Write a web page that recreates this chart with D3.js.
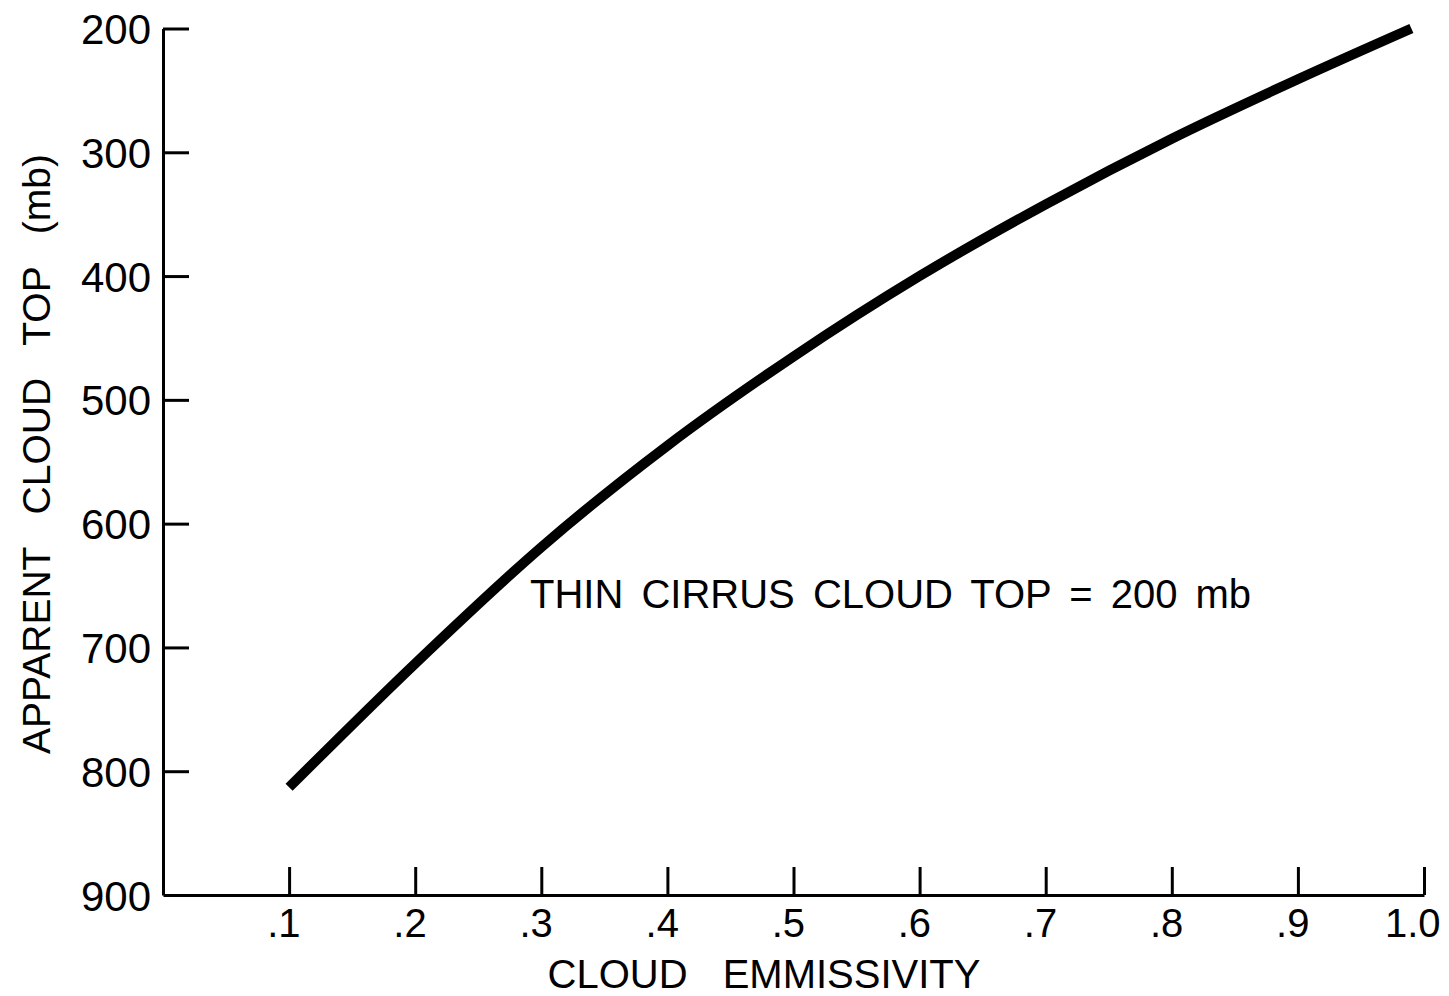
<!DOCTYPE html>
<html>
<head>
<meta charset="utf-8">
<script src="https://cdn.jsdelivr.net/npm/d3@7/dist/d3.min.js"></script>
<style>
  html, body { margin: 0; padding: 0; background: #fff; }
  svg { display: block; }
  text { font-family: "Liberation Sans", Arial, sans-serif; fill: #000; }
</style>
</head>
<body>
<svg id="chart" width="1449" height="996"></svg>
<script>
// Cloud emissivity vs. apparent cloud-top pressure for a thin cirrus layer at 200 mb
const emissivity = [0.10, 0.20, 0.30, 0.40, 0.50, 0.60, 0.70, 0.80, 0.90, 0.99];
const apparentTop = [813, 713, 619, 537, 465, 400, 342, 289, 241, 200];
const xTicks = [0.1, 0.2, 0.3, 0.4, 0.5, 0.6, 0.7, 0.8, 0.9, 1.0];
const xTickLabels = [".1", ".2", ".3", ".4", ".5", ".6", ".7", ".8", ".9", "1.0"];
const yTicks = [200, 300, 400, 500, 600, 700, 800, 900];

const svg = d3.select("#chart");

const x = d3.scaleLinear().domain([0, 1]).range([163, 1424]);
const y = d3.scaleLinear().domain([200, 900]).range([28.5, 895]);

// Y axis: ticks point inward, labels on the left
const yAxis = d3.axisLeft(y)
  .tickValues(yTicks)
  .tickFormat(d3.format("d"))
  .tickSizeInner(-26)
  .tickSizeOuter(0)
  .tickPadding(12);

const gy = svg.append("g")
  .attr("transform", `translate(${x(0)},0)`)
  .call(yAxis);
gy.select(".domain").attr("stroke", "#000").attr("stroke-width", 3);
gy.selectAll(".tick line").attr("stroke", "#000").attr("stroke-width", 3);
gy.selectAll(".tick text")
  .attr("font-size", 42)
  .attr("font-family", "Liberation Sans, Arial, sans-serif")
  .attr("fill", "#000")
  .attr("dy", "0.36em");
// the 900 tick coincides with the x axis: keep only its label
gy.selectAll(".tick").filter(d => d === 900).select("line").remove();

// X axis: ticks point upward, labels below
const xAxis = d3.axisBottom(x)
  .tickValues(xTicks)
  .tickFormat((d, i) => xTickLabels[i])
  .tickSizeInner(-28)
  .tickSizeOuter(0)
  .tickPadding(14);

const gx = svg.append("g")
  .attr("transform", `translate(0,${y(900)})`)
  .call(xAxis);
gx.select(".domain").attr("stroke", "#000").attr("stroke-width", 3);
gx.selectAll(".tick line").attr("stroke", "#000").attr("stroke-width", 3);
gx.selectAll(".tick text")
  .attr("font-size", 40)
  .attr("font-family", "Liberation Sans, Arial, sans-serif")
  .attr("fill", "#000")
  .attr("text-anchor", "end")
  .attr("x", (d, i) => i === xTicks.length - 1 ? 16 : 11)
  .attr("dy", "0.71em");

// Curve
const pts = emissivity.map((e, i) => [e, apparentTop[i]]);
const line = d3.line()
  .x(d => x(d[0]))
  .y(d => y(d[1]))
  .curve(d3.curveMonotoneX);

svg.append("path")
  .datum(pts)
  .attr("d", line)
  .attr("fill", "none")
  .attr("stroke", "#000")
  .attr("stroke-width", 10)
  .attr("stroke-linecap", "butt");

// Axis titles
svg.append("text")
  .attr("transform", "translate(50,454) rotate(-90)")
  .attr("text-anchor", "middle")
  .attr("font-size", 39)
  .style("word-spacing", "22px")
  .text("APPARENT CLOUD TOP (mb)");

svg.append("text")
  .attr("x", 764)
  .attr("y", 988)
  .attr("text-anchor", "middle")
  .attr("font-size", 40)
  .style("word-spacing", "24px")
  .text("CLOUD EMMISSIVITY");

// Annotation
svg.append("text")
  .attr("x", 530)
  .attr("y", 608)
  .attr("font-size", 40)
  .style("word-spacing", "7px")
  .text("THIN CIRRUS CLOUD TOP = 200 mb");
</script>
</body>
</html>
